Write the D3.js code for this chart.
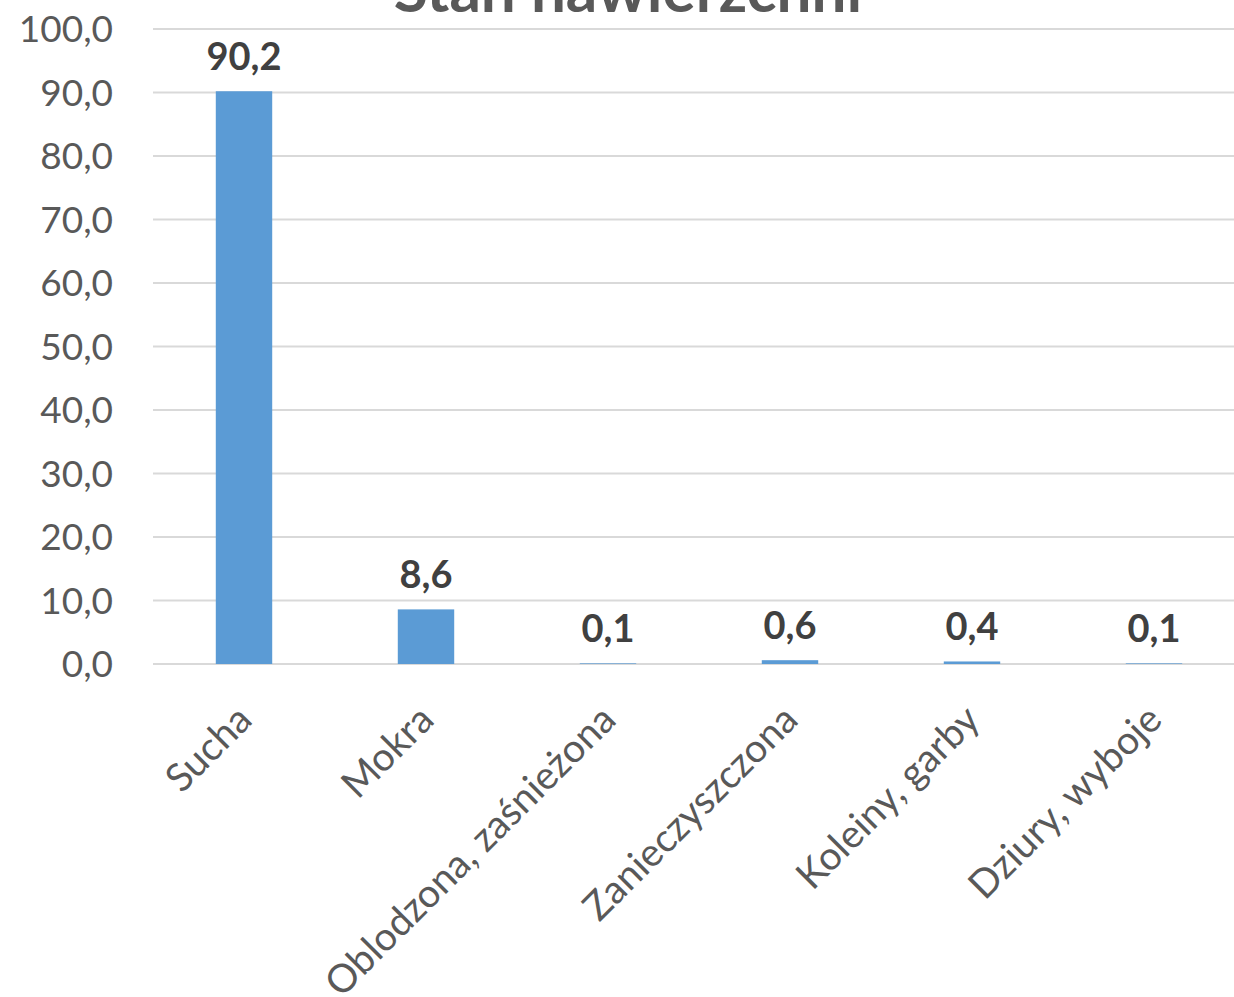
<!DOCTYPE html>
<html>
<head>
<meta charset="utf-8">
<script src="https://cdn.jsdelivr.net/npm/d3@7"></script>
<style>
  html, body { margin: 0; padding: 0; background: #fff; }
  svg { display: block; }
</style>
</head>
<body>
<svg id="chart" width="1234" height="997"></svg>
<script>
// Road surface condition, share of cases (%)
const categories = ["Sucha", "Mokra", "Oblodzona, zaśnieżona", "Zanieczyszczona", "Koleiny, garby", "Dziury, wyboje"];
const values = [90.2, 8.6, 0.1, 0.6, 0.4, 0.1];
const yTicks = [0, 10, 20, 30, 40, 50, 60, 70, 80, 90, 100];
const title = "Stan nawierzchni";

const fmt = v => v.toFixed(1).replace(".", ",");
const FONT = "Lato, 'Open Sans', sans-serif";

const svg = d3.select("#chart");
const margin = { left: 153, right: -11, top: 29, bottom: 333 };
const W = 1234, H = 997;

const x = d3.scaleBand()
  .domain(categories)
  .range([margin.left, W - margin.right])
  .paddingInner(0.69)
  .paddingOuter(0.345);

const y = d3.scaleLinear()
  .domain([0, 100])
  .range([H - margin.bottom, margin.top]);

// Title
svg.append("text")
  .attr("x", 628).attr("y", 12)
  .attr("text-anchor", "middle")
  .attr("font-family", FONT)
  .attr("font-weight", "bold")
  .attr("font-size", 62)
  .attr("fill", "#595959")
  .text(title);

// Horizontal gridlines
svg.append("g")
  .selectAll("line")
  .data(yTicks)
  .join("line")
  .attr("x1", margin.left).attr("x2", W - margin.right)
  .attr("y1", d => y(d)).attr("y2", d => y(d))
  .attr("stroke", "#d9d9d9")
  .attr("stroke-width", 2);

// Y axis labels
const yAxis = d3.axisLeft(y).tickValues(yTicks).tickFormat(fmt).tickSize(0).tickPadding(40);
const gy = svg.append("g").attr("transform", `translate(${margin.left},0)`).call(yAxis);
gy.select(".domain").remove();
gy.selectAll("text")
  .attr("font-family", FONT)
  .attr("font-size", 37)
  .attr("fill", "#595959")
  .attr("dy", "0.35em");

// Bars
svg.append("g")
  .selectAll("rect")
  .data(categories)
  .join("rect")
  .attr("x", d => x(d))
  .attr("width", x.bandwidth())
  .attr("y", (d, i) => y(values[i]))
  .attr("height", (d, i) => y(0) - y(values[i]))
  .attr("fill", "#5b9bd5");

// Value labels
svg.append("g")
  .selectAll("text")
  .data(categories)
  .join("text")
  .attr("x", d => x(d) + x.bandwidth() / 2)
  .attr("y", (d, i) => y(values[i]) - 21)
  .attr("text-anchor", "middle")
  .attr("font-family", FONT)
  .attr("font-weight", "bold")
  .attr("font-size", 38)
  .attr("fill", "#404040")
  .text((d, i) => fmt(values[i]));

// Category labels, rotated
const xAxis = d3.axisBottom(x).tickSize(0).tickPadding(0);
const gx = svg.append("g").attr("transform", `translate(0,${y(0)})`).call(xAxis);
gx.select(".domain").remove();
gx.selectAll("text")
  .attr("font-family", FONT)
  .attr("font-size", 39)
  .attr("fill", "#595959")
  .attr("text-anchor", "end")
  .attr("dy", null)
  .attr("y", null)
  .attr("transform", "translate(10,58) rotate(-45)");
</script>
</body>
</html>
